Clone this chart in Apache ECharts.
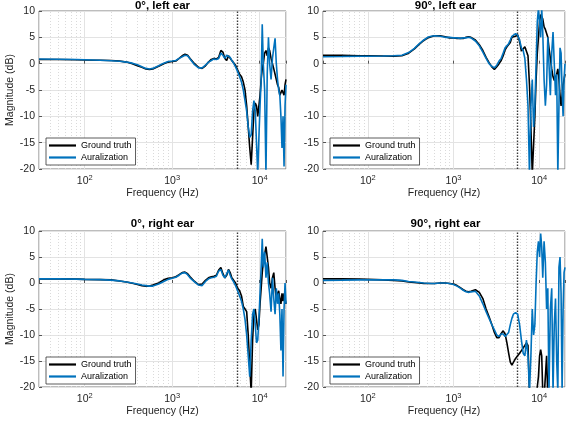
<!DOCTYPE html>
<html><head><meta charset="utf-8">
<script src="https://cdn.jsdelivr.net/npm/echarts@6/dist/echarts.min.js"></script>
<style>html,body{margin:0;padding:0;background:#fff}#c{width:568px;height:427px}</style>
</head><body><div id="c"></div>
<script>
// ---------- data ----------
const freqHz = [
  30, 50, 80, 100, 150, 200, 250, 300, 350, 400, 450, 500, 550, 600, 700, 800, 900,
  1000, 1100, 1200, 1300, 1400, 1500, 1600, 1800, 2000, 2200, 2400, 2600, 2800, 3000, 3200, 3400, 3600,
  3800, 4000, 4200, 4400, 4600, 4800, 5000, 5300, 5600, 5900, 6200, 6500, 6800, 7100, 7400,
  7700, 8000, 8300, 8600, 8900, 9200, 9500, 9800, 10100, 10400, 10700, 11000, 11400, 11800, 12200,
  12600, 13000, 13500, 14000, 14500, 15000, 15500, 16000, 16500, 17000, 17500, 18000, 18500, 19000, 19500, 20000
];
// 0°, left ear
const gtLeft0 = [
  0.8, 0.8, 0.75, 0.7, 0.65, 0.6, 0.5, 0.3, 0.0, -0.4, -0.7, -1.0, -1.1, -1.0, -0.5, 0.0, 0.3,
  0.4, 0.5, 1.0, 1.5, 1.8, 1.6, 1.0, 0.0, -0.7, -0.9, -0.4, 0.3, 0.8, 1.0, 0.9, 1.2, 2.5,
  2.2, 1.0, 0.6, 1.5, 1.2, 0.6, 0.3, -0.3, -1.2, -2.0, -2.5, -3.5, -5, -8, -12,
  -16, -19.2, -14, -9, -7.5, -8, -10, -8, -6, -3, -1, 0, 2, 2.5, 1.5,
  3, 2.5, 1, 0, -1, -2, -3, -4, -4.5, -6, -5.5, -5, -5, -6, -4, -3
];
const auLeft0 = [
  0.9, 0.85, 0.8, 0.75, 0.65, 0.55, 0.45, 0.3, 0.1, -0.2, -0.6, -0.9, -1.0, -0.9, -0.4, 0.1, 0.4,
  0.5, 0.6, 1.0, 1.3, 1.6, 1.5, 0.9, -0.2, -0.8, -0.8, -0.3, 0.3, 0.6, 0.9, 0.8, 1.0, 2.0,
  1.6, 1.0, 1.6, 1.8, 1.2, 0.6, 0.2, -0.6, -1.5, -2.5, -3.5, -5, -7, -9, -12,
  -14, -13.5, -9, -7, -9, -15, -21, -14, -8, -3, 7.5, 0, -5, -21, -2,
  5, 0, -3, 1, 3, 4.8, 0, -3, -5, -6, -10, -16, -10, -19.5, -8, -4
];
// 90°, left ear
const gtLeft90 = [
  1.6, 1.6, 1.5, 1.5, 1.45, 1.4, 1.5, 2.0, 2.8, 3.7, 4.4, 4.9, 5.1, 5.3, 5.3, 5.1, 4.9,
  4.9, 4.8, 4.8, 4.8, 5.0, 5.1, 5.0, 4.5, 3.6, 2.5, 1.2, 0.2, -0.6, -1.1, -0.6, 0.0, 0.6,
  1.5, 2.6, 3.2, 3.4, 4.0, 5.0, 5.3, 5.2, 5.5, 4.2, 2.4, 2.3, 3.2, 3.0, 1.5,
  -4, -12, -21, -21, -10, -3, 2, 5, 8, 9.3, 9.5, 8.5, 7, 6.5, 6.2,
  5, 3, 1, -1, -2.5, -3.2, -3.5, -2, -1, -3, -6, -8, -6, -4, -3, -2
];
const auLeft90 = [
  1.3, 1.35, 1.4, 1.4, 1.45, 1.5, 1.6, 2.1, 2.9, 3.8, 4.5, 5.0, 5.2, 5.3, 5.2, 5.0, 5.0,
  4.9, 4.9, 4.8, 4.9, 4.9, 5.0, 4.9, 4.3, 3.4, 2.2, 1.0, 0.0, -0.5, -0.8, -0.3, 0.5, 1.0,
  2.0, 3.0, 3.3, 3.8, 4.5, 5.2, 5.5, 5.7, 5.4, 4.5, 3.0, 2.5, 1.0, -3, -8,
  -21, -8, -3, -12, -8, 0, 8, 10.5, 10.5, 5, 10.5, 6, -3, -8, -4,
  5, 0, -6, 2, 6, 0, -6, -2, -21, -8, 3, 2, -5, -10, -3, 0
];
// 0°, right ear
const gtRight0 = [
  0.8, 0.8, 0.75, 0.7, 0.65, 0.6, 0.4, 0.2, -0.05, -0.3, -0.5, -0.6, -0.6, -0.4, 0.0, 0.6, 0.9,
  1.0, 1.2, 1.6, 2.0, 2.1, 1.8, 1.2, 0.3, -0.3, -0.2, 0.5, 1.0, 1.2, 1.3, 1.5, 2.5, 3.0,
  1.8, 1.0, 1.5, 2.6, 2.0, 1.0, 0.8, 0.0, -1.0, -1.5, -2.5, -4.5, -5.0, -5.5, -10,
  -16, -21, -11, -6, -5, -7, -9, -8, -4, -1, 2, 4, 5.5, 7, 5,
  3, 0, -1, 1, 2, -1, -3, -2, -1.5, -3, -4, -2, -3.5, -2, -3, -4
];
const auRight0 = [
  0.8, 0.8, 0.75, 0.7, 0.65, 0.55, 0.4, 0.2, 0.0, -0.2, -0.4, -0.5, -0.6, -0.6, -0.2, 0.3, 0.7,
  0.9, 1.1, 1.5, 1.9, 2.0, 1.6, 1.0, 0.2, -0.4, -0.5, 0.3, 0.8, 1.0, 1.1, 1.3, 2.3, 2.6,
  1.5, 1.0, 1.8, 2.5, 1.5, 0.8, 0.3, -0.5, -1.5, -2.5, -3.5, -5, -7, -10, -14,
  -18, -11, -6, -5, -8, -11.5, -11, -7, -2, 3, 8.5, 3, 6, 1, 4,
  0, -2, -5.5, 1, -3, -6, -1, -4, -2, -6, -13, -5, -18, -5, 0, -4
];
// 90°, right ear
const gtRight90 = [
  0.8, 0.8, 0.75, 0.7, 0.6, 0.5, 0.4, 0.2, 0.1, 0.0, -0.1, -0.1, -0.1, -0.1, 0.0, 0.0, -0.1,
  -0.2, -0.5, -0.9, -1.3, -1.6, -1.7, -1.6, -1.3, -1.8, -3.0, -5.0, -6.5, -8.0, -9.5, -10.5, -10.5, -9.7,
  -9.2, -9.8, -11.5, -13.5, -15.2, -15.8, -15.5, -14.5, -14, -13.5, -13, -12.5, -12, -11.5, -12,
  -21, -22, -22, -22, -22, -22, -22, -18, -14, -12.8, -14, -21, -22, -18, -14,
  -22, -22, -22, -22, -22, -22, -22, -22, -22, -22, -22, -22, -22, -22, -22, -22
];
const auRight90 = [
  0.5, 0.55, 0.6, 0.6, 0.6, 0.6, 0.5, 0.3, 0.2, 0.1, 0.0, -0.05, -0.1, -0.1, 0.0, 0.0, -0.1,
  -0.3, -0.6, -1.0, -1.4, -1.7, -1.8, -1.7, -1.6, -2.5, -4.0, -5.5, -6.8, -8.0, -9.0, -10.0, -10.3, -9.8,
  -9.8, -10.3, -10.5, -9.5, -8.0, -6.8, -6.0, -5.7, -6.0, -8.0, -11, -13.5, -14, -11, -14,
  -21, -14, -5, -10, -8, 0, 6, 8, 5, 9.5, 7, 1, 8, 4, -5,
  -1, -21, -5, -1, -21, -8, -3, -15, -21, 3, 5, -2, -21, -5, 2, 3
];
const panelTitles = ['0°, left ear', '90°, left ear', '0°, right ear', '90°, right ear'];
const seriesNames = ['Ground truth', 'Auralization'];
const cutoffHz = 5500;
const xMinHz = 30, xMaxHz = 20000;
const yMin = -20, yMax = 10, yStep = 5;

// ---------- layout ----------
const FONT = '"Liberation Sans", Arial, Helvetica, sans-serif';
const TXT = '#262626';
const panels = [
  { title: panelTitles[0], gt: gtLeft0,  au: auLeft0,  grid: { left: 39,  top: 11,  width: 247, height: 158 }, yName: true,  legend: { left: 46,  top: 138 }, titleTop: 0 },
  { title: panelTitles[1], gt: gtLeft90, au: auLeft90, grid: { left: 323, top: 11,  width: 245, height: 158 }, yName: false, legend: { left: 330, top: 138 }, titleTop: 0 },
  { title: panelTitles[2], gt: gtRight0, au: auRight0, grid: { left: 39,  top: 231, width: 247, height: 156 }, yName: true,  legend: { left: 46,  top: 357 }, titleTop: 218 },
  { title: panelTitles[3], gt: gtRight90,au: auRight90,grid: { left: 323, top: 231, width: 245, height: 156 }, yName: false, legend: { left: 330, top: 357 }, titleTop: 218 }
];

const minorGridHz = [];
[10, 100, 1000, 10000].forEach(d => { for (let m = 2; m <= 9; m++) { const v = m * d; if (v > xMinHz && v < xMaxHz) minorGridHz.push(v); } });

const option = {
  animation: false,
  backgroundColor: '#fff',
  textStyle: { fontFamily: FONT },
  title: [], grid: [], xAxis: [], yAxis: [], legend: [], series: []
};

panels.forEach((p, i) => {
  option.title.push({
    text: p.title, left: p.grid.left + p.grid.width / 2, top: p.titleTop, textAlign: 'center', padding: 0,
    textStyle: { fontSize: 11.5, fontWeight: 'bold', color: '#000', fontFamily: FONT }
  });
  option.grid.push(Object.assign({ show: true, borderColor: '#7a7a7a', borderWidth: 1, backgroundColor: '#fff', containLabel: false }, p.grid));
  option.xAxis.push({
    type: 'log', logBase: 10, gridIndex: i, min: xMinHz, max: xMaxHz,
    name: 'Frequency (Hz)', nameLocation: 'middle', nameGap: 19,
    nameTextStyle: { fontSize: 10.5, color: TXT, fontFamily: FONT },
    axisLine: { show: false },
    axisTick: { show: true, inside: true, length: 3, lineStyle: { color: '#555' } },
    splitLine: { show: true, lineStyle: { color: '#e3e3e3', width: 1 } },
    axisLabel: {
      margin: 5, color: TXT,
      formatter: v => { const e = Math.log10(v), r = Math.round(e); return Math.abs(e - r) < 1e-6 ? '{b|10}{s|' + r + '}' : ''; },
      rich: { b: { fontSize: 10.5, color: TXT, fontFamily: FONT }, s: { fontSize: 7.5, color: TXT, fontFamily: FONT, padding: [0, 0, 6, 0] } }
    }
  });
  option.yAxis.push({
    type: 'value', gridIndex: i, min: yMin, max: yMax, interval: yStep,
    name: p.yName ? 'Magnitude (dB)' : '', nameLocation: 'middle', nameGap: 22,
    nameTextStyle: { fontSize: 10.5, color: TXT, fontFamily: FONT },
    axisLine: { show: false },
    axisTick: { show: true, inside: true, length: 3, lineStyle: { color: '#555' } },
    splitLine: { show: true, lineStyle: { color: '#e3e3e3', width: 1 } },
    axisLabel: { margin: 4, fontSize: 10.5, color: TXT, fontFamily: FONT }
  });
  option.legend.push({
    data: seriesNames, orient: 'vertical', left: p.legend.left, top: p.legend.top, zlevel: 2,
    backgroundColor: '#fff', borderColor: '#333', borderWidth: 0.8, borderRadius: 0,
    padding: [2, 4, 2, 3], itemGap: 1, itemWidth: 27, itemHeight: 2.2, icon: 'rect',
    selectedMode: false,
    textStyle: { fontSize: 9, color: '#000', fontFamily: FONT, lineHeight: 11 }
  });
  // helper series: minor grid lines and cutoff marker (drawn beneath the curves)
  option.series.push({
    type: 'line', xAxisIndex: i, yAxisIndex: i, data: [], silent: true, z: 1, zlevel: 0,
    markLine: {
      z: 1, silent: true, symbol: ['none', 'none'], label: { show: false }, animation: false,
      emphasis: { disabled: true },
      lineStyle: { color: '#dadada', type: [1, 2], width: 1 },
      data: minorGridHz.map(v => ({ xAxis: v })).concat([
        { xAxis: cutoffHz, lineStyle: { color: '#3a3a3a', type: [1.5, 1.5], width: 1.4 } }
      ])
    }
  });
  option.series.push({
    name: seriesNames[0], type: 'line', xAxisIndex: i, yAxisIndex: i, z: 3, zlevel: 1,
    data: freqHz.map((f, k) => [f, p.gt[k]]), symbol: 'none', smooth: false, clip: true,
    lineStyle: { color: '#000', width: 1.6 }, itemStyle: { color: '#000' }
  });
  option.series.push({
    name: seriesNames[1], type: 'line', xAxisIndex: i, yAxisIndex: i, z: 4, zlevel: 1,
    data: freqHz.map((f, k) => [f, p.au[k]]), symbol: 'none', smooth: false, clip: true,
    lineStyle: { color: '#0072BD', width: 1.6 }, itemStyle: { color: '#0072BD' }
  });
});

const chart = echarts.init(document.getElementById('c'), null, { renderer: 'canvas' });
chart.setOption(option);
</script>
</body></html>
